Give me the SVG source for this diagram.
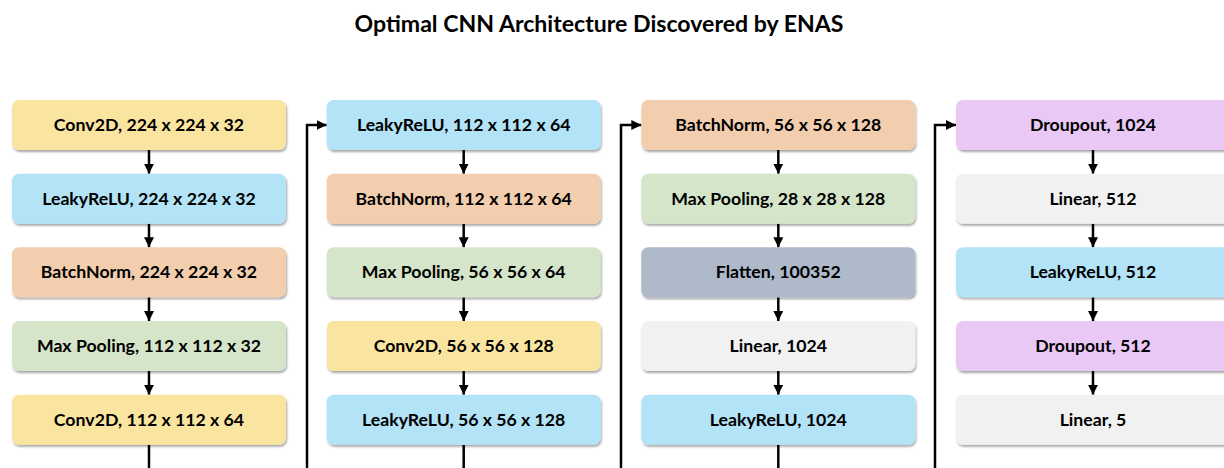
<svg xmlns="http://www.w3.org/2000/svg" width="1224" height="468" viewBox="0 0 1224 468">
<defs>
<filter id="sh" x="-5%" y="-20%" width="115%" height="160%">
<feDropShadow dx="1" dy="2" stdDeviation="1.2" flood-color="#000" flood-opacity="0.35"/>
</filter>
<marker id="ah" viewBox="0 0 10 10" refX="10" refY="5" markerWidth="10" markerHeight="10" markerUnits="userSpaceOnUse" orient="auto">
<path d="M0,0 L10,5 L0,10 Z" fill="#000"/>
</marker>
</defs>
<style>
.b{stroke:none;filter:url(#sh)}
.t{font-family:Lato,"Liberation Sans",sans-serif;font-weight:bold;font-size:17.7px;fill:#000;text-anchor:middle}
.c{fill:none;stroke:#000;stroke-width:2.5}
.yel{fill:#FAE5A0}
.blu{fill:#B3E3F7}
.pch{fill:#F2CEAF}
.grn{fill:#D5E5C9}
.gbl{fill:#AEB9CA}
.lgr{fill:#F1F1F1}
.pur{fill:#E9C8F6}
</style>
<rect width="1224" height="468" fill="#fff"/>
<text x="599" y="32" style="font-family:Lato,'Liberation Sans',sans-serif;font-weight:bold;font-size:23.1px;text-anchor:middle">Optimal CNN Architecture Discovered by ENAS</text>

<g id="connectors">
<line class="c" x1="149" y1="150" x2="149" y2="173.7" marker-end="url(#ah)"/>
<line class="c" x1="149" y1="223.7" x2="149" y2="247.3" marker-end="url(#ah)"/>
<line class="c" x1="149" y1="297.3" x2="149" y2="321" marker-end="url(#ah)"/>
<line class="c" x1="149" y1="371" x2="149" y2="394.7" marker-end="url(#ah)"/>
<line class="c" x1="149" y1="444.7" x2="149" y2="470"/>
<polyline class="c" points="307,470 307,125 326.7,125" marker-end="url(#ah)"/>

<line class="c" x1="463.7" y1="150" x2="463.7" y2="173.7" marker-end="url(#ah)"/>
<line class="c" x1="463.7" y1="223.7" x2="463.7" y2="247.3" marker-end="url(#ah)"/>
<line class="c" x1="463.7" y1="297.3" x2="463.7" y2="321" marker-end="url(#ah)"/>
<line class="c" x1="463.7" y1="371" x2="463.7" y2="394.7" marker-end="url(#ah)"/>
<line class="c" x1="463.7" y1="444.7" x2="463.7" y2="470"/>
<polyline class="c" points="621,470 621,125 641.3,125" marker-end="url(#ah)"/>

<line class="c" x1="778.3" y1="150" x2="778.3" y2="173.7" marker-end="url(#ah)"/>
<line class="c" x1="778.3" y1="223.7" x2="778.3" y2="247.3" marker-end="url(#ah)"/>
<line class="c" x1="778.3" y1="297.3" x2="778.3" y2="321" marker-end="url(#ah)"/>
<line class="c" x1="778.3" y1="371" x2="778.3" y2="394.7" marker-end="url(#ah)"/>
<line class="c" x1="778.3" y1="444.7" x2="778.3" y2="470"/>
<polyline class="c" points="935,470 935,125 956,125" marker-end="url(#ah)"/>

<line class="c" x1="1093" y1="150" x2="1093" y2="173.7" marker-end="url(#ah)"/>
<line class="c" x1="1093" y1="223.7" x2="1093" y2="247.3" marker-end="url(#ah)"/>
<line class="c" x1="1093" y1="297.3" x2="1093" y2="321" marker-end="url(#ah)"/>
<line class="c" x1="1093" y1="371" x2="1093" y2="394.7" marker-end="url(#ah)"/>
</g>

<g id="n1"><rect class="b yel" x="12" y="100" width="274" height="50" rx="7"/><text class="t" x="149" y="131">Conv2D, 224 x 224 x 32</text></g>
<g id="n2"><rect class="b blu" x="12" y="173.7" width="274" height="50" rx="7"/><text class="t" x="149" y="204.7">LeakyReLU, 224 x 224 x 32</text></g>
<g id="n3"><rect class="b pch" x="12" y="247.3" width="274" height="50" rx="7"/><text class="t" x="149" y="278.3">BatchNorm, 224 x 224 x 32</text></g>
<g id="n4"><rect class="b grn" x="12" y="321" width="274" height="50" rx="7"/><text class="t" x="149" y="352">Max Pooling, 112 x 112 x 32</text></g>
<g id="n5"><rect class="b yel" x="12" y="394.7" width="274" height="50" rx="7"/><text class="t" x="149" y="425.7">Conv2D, 112 x 112 x 64</text></g>

<g id="n6"><rect class="b blu" x="326.7" y="100" width="274" height="50" rx="7"/><text class="t" x="463.7" y="131">LeakyReLU, 112 x 112 x 64</text></g>
<g id="n7"><rect class="b pch" x="326.7" y="173.7" width="274" height="50" rx="7"/><text class="t" x="463.7" y="204.7">BatchNorm, 112 x 112 x 64</text></g>
<g id="n8"><rect class="b grn" x="326.7" y="247.3" width="274" height="50" rx="7"/><text class="t" x="463.7" y="278.3">Max Pooling, 56 x 56 x 64</text></g>
<g id="n9"><rect class="b yel" x="326.7" y="321" width="274" height="50" rx="7"/><text class="t" x="463.7" y="352">Conv2D, 56 x 56 x 128</text></g>
<g id="n10"><rect class="b blu" x="326.7" y="394.7" width="274" height="50" rx="7"/><text class="t" x="463.7" y="425.7">LeakyReLU, 56 x 56 x 128</text></g>

<g id="n11"><rect class="b pch" x="641.3" y="100" width="274" height="50" rx="7"/><text class="t" x="778.3" y="131">BatchNorm, 56 x 56 x 128</text></g>
<g id="n12"><rect class="b grn" x="641.3" y="173.7" width="274" height="50" rx="7"/><text class="t" x="778.3" y="204.7">Max Pooling, 28 x 28 x 128</text></g>
<g id="n13"><rect class="b gbl" x="641.3" y="247.3" width="274" height="50" rx="7"/><text class="t" x="778.3" y="278.3">Flatten, 100352</text></g>
<g id="n14"><rect class="b lgr" x="641.3" y="321" width="274" height="50" rx="7"/><text class="t" x="778.3" y="352">Linear, 1024</text></g>
<g id="n15"><rect class="b blu" x="641.3" y="394.7" width="274" height="50" rx="7"/><text class="t" x="778.3" y="425.7">LeakyReLU, 1024</text></g>

<g id="n16"><rect class="b pur" x="956" y="100" width="274" height="50" rx="7"/><text class="t" x="1093" y="131">Droupout, 1024</text></g>
<g id="n17"><rect class="b lgr" x="956" y="173.7" width="274" height="50" rx="7"/><text class="t" x="1093" y="204.7">Linear, 512</text></g>
<g id="n18"><rect class="b blu" x="956" y="247.3" width="274" height="50" rx="7"/><text class="t" x="1093" y="278.3">LeakyReLU, 512</text></g>
<g id="n19"><rect class="b pur" x="956" y="321" width="274" height="50" rx="7"/><text class="t" x="1093" y="352">Droupout, 512</text></g>
<g id="n20"><rect class="b lgr" x="956" y="394.7" width="274" height="50" rx="7"/><text class="t" x="1093" y="425.7">Linear, 5</text></g>
</svg>
